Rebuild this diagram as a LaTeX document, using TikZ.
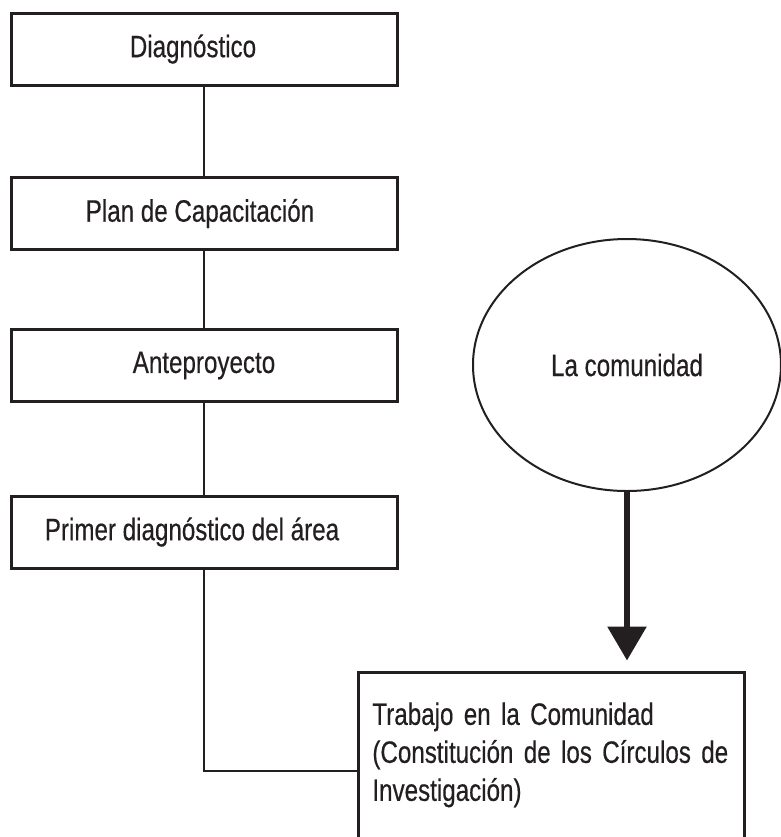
\documentclass[tikz,border=0pt]{standalone}
\usepackage{fontspec}
\setmainfont{Liberation Sans}[FakeStretch=0.78,FakeBold=0.4]
\usetikzlibrary{arrows.meta,shapes.geometric}
\definecolor{ink}{RGB}{35,31,32}
\begin{document}
\begin{tikzpicture}[x=0.5pt,y=-0.5pt,
    every node/.style={text=ink,font=\fontsize{15.5}{19}\selectfont},
    stage/.style={draw=ink,line width=1.5pt,minimum width=193pt,minimum height=36pt,inner sep=0pt},
    link/.style={draw=ink,line width=1.3pt}]
  \useasboundingbox (0,0) rectangle (781,837);
  \clip (0,0) rectangle (781,837);
  \draw
    (204,49) node[stage] (diag){Diagnóstico\rule{11pt}{0pt}}
    (204,213.5) node[stage] (plan){Plan de Capacitación\rule{4pt}{0pt}}
    (204,365.5) node[stage] (ante){Anteproyecto}
    (204,532) node[stage] (primer){Primer diagnóstico del área\rule{12pt}{0pt}}
    (551,771) node[stage,minimum height=99pt] (trabajo){};
  \node[ellipse,draw=ink,line width=1pt,minimum width=154pt,minimum height=126pt,inner sep=0pt]
    (comunidad) at (627,365) {La comunidad};
  \node[anchor=north west,inner sep=0pt,text width=180pt,align=left]
    (trabajotxt) at (372,702) {Trabajo en la Comunidad\\(Constitución de los Círculos de\\Investigación)};
  \begin{scope}[link]
    \draw (diag) to (plan);
    \draw (plan) to (ante);
    \draw (ante) to (primer);
    \draw (primer) |- (trabajo);
  \end{scope}
  \draw[link,line width=3pt,shorten >=5pt,-{Triangle[width=19pt,length=17pt]}]
    (comunidad) -- (comunidad.south |- trabajo.north);
\end{tikzpicture}
\end{document}
